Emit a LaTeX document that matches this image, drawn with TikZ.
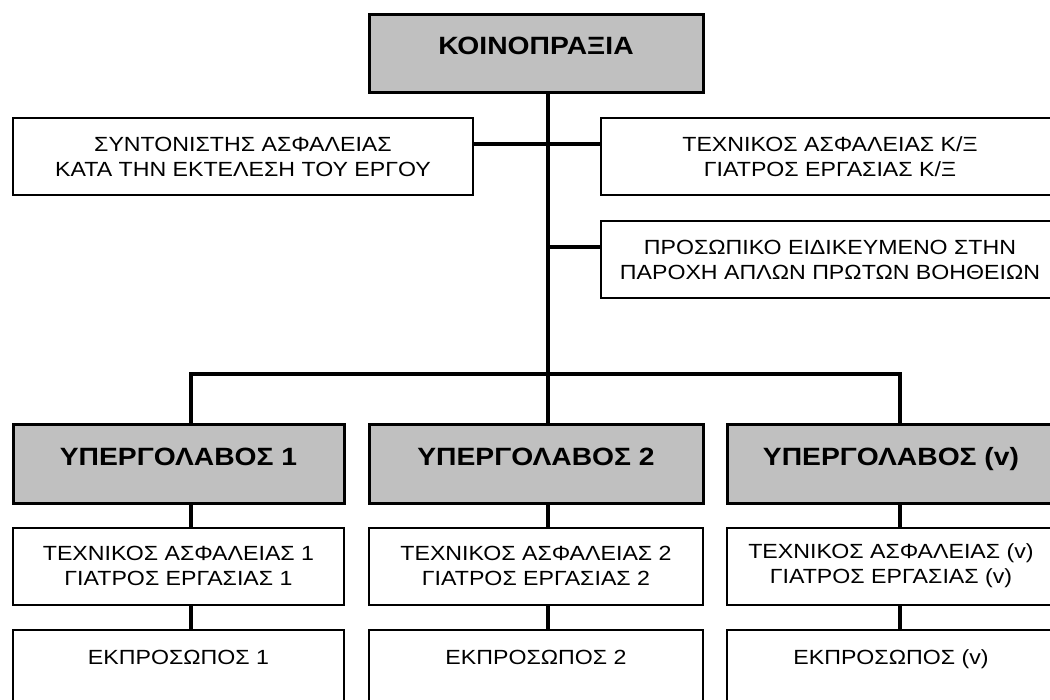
\documentclass[tikz,border=0pt]{standalone}
\usepackage{fontspec}
\setmainfont{Liberation Sans}[FakeStretch=1.13]

\definecolor{boxgray}{RGB}{192,192,192}

\tikzset{
  head/.style={draw, line width=3pt, fill=boxgray, inner sep=0pt,
    font=\bfseries\fontsize{25}{30}\selectfont,
    minimum height=78pt, text height=18pt, text depth=16pt},
  role/.style={draw, line width=2pt, fill=white, align=center, inner sep=0pt,
    font=\fontsize{20.5}{25}\selectfont, minimum height=77pt},
  rep/.style={role, anchor=north, text height=34pt, text depth=70pt},
  link/.style={line width=3.5pt}
}

\begin{document}
\begin{tikzpicture}[x=1pt, y=-1pt]
\useasboundingbox (0,0) rectangle (1050,700);

% consortium and its own safety staff
\node (kp) [head, minimum width=334pt] at (536, 54) {ΚΟΙΝΟΠΡΑΞΙΑ};
\node (syn) [role, minimum width=460pt] at (243, 156.5) {ΣΥΝΤΟΝΙΣΤΗΣ ΑΣΦΑΛΕΙΑΣ\\ΚΑΤΑ ΤΗΝ ΕΚΤΕΛΕΣΗ ΤΟΥ ΕΡΓΟΥ};
\node (tkx) [role, minimum width=458pt] at (830, 156.5) {ΤΕΧΝΙΚΟΣ ΑΣΦΑΛΕΙΑΣ Κ/Ξ\\ΓΙΑΤΡΟΣ ΕΡΓΑΣΙΑΣ Κ/Ξ};
\node (pro) [role, minimum width=458pt] at (830, 259.5) {ΠΡΟΣΩΠΙΚΟ ΕΙΔΙΚΕΥΜΕΝΟ ΣΤΗΝ\\ΠΑΡΟΧΗ ΑΠΛΩΝ ΠΡΩΤΩΝ ΒΟΗΘΕΙΩΝ};

% subcontractors
\node (yp1) [head, minimum width=331pt] at (178.5, 464) {ΥΠΕΡΓΟΛΑΒΟΣ 1};
\node (yp2) [head, minimum width=334pt] at (536, 464) {ΥΠΕΡΓΟΛΑΒΟΣ 2};
\node (ypv) [head, minimum width=328pt] at (891, 464) {ΥΠΕΡΓΟΛΑΒΟΣ (v)};

\node (tech1) [role, minimum width=331pt] at (178.5, 566) {ΤΕΧΝΙΚΟΣ ΑΣΦΑΛΕΙΑΣ 1\\ΓΙΑΤΡΟΣ ΕΡΓΑΣΙΑΣ 1};
\node (tech2) [role, minimum width=334pt] at (536, 566) {ΤΕΧΝΙΚΟΣ ΑΣΦΑΛΕΙΑΣ 2\\ΓΙΑΤΡΟΣ ΕΡΓΑΣΙΑΣ 2};
\node (techv) [role, minimum width=328pt] at (891, 566) {ΤΕΧΝΙΚΟΣ ΑΣΦΑΛΕΙΑΣ (v)\\ΓΙΑΤΡΟΣ ΕΡΓΑΣΙΑΣ (v)};

\node (rep1) [rep, minimum width=331pt] at (178.5, 629) {ΕΚΠΡΟΣΩΠΟΣ 1};
\node (rep2) [rep, minimum width=334pt] at (536, 629) {ΕΚΠΡΟΣΩΠΟΣ 2};
\node (repv) [rep, minimum width=328pt] at (891, 629) {ΕΚΠΡΟΣΩΠΟΣ (v)};

% main trunk and branches
\coordinate (tapA) at (548, 144);
\coordinate (tapB) at (548, 247);
\coordinate (bus) at (548, 374);

\draw[link] ([xshift=12pt]kp.south) -- (bus);
\draw[link] (tapA -| syn.east) -- (tapA -| tkx.west);
\draw[link] (tapB) -- (tapB -| pro.west);
\draw[link] ([xshift=12.5pt]yp1.north) |- (bus) -| ([xshift=9pt]ypv.north);
\draw[link] (bus) -- ([xshift=12pt]yp2.north);

\draw ([xshift=12.5pt]yp1.south) edge[link] ([xshift=12.5pt]tech1.north);
\draw ([xshift=12pt]yp2.south) edge[link] ([xshift=12pt]tech2.north);
\draw ([xshift=9pt]ypv.south) edge[link] ([xshift=9pt]techv.north);
\draw ([xshift=12.5pt]tech1.south) edge[link] ([xshift=12.5pt]rep1.north);
\draw ([xshift=12pt]tech2.south) edge[link] ([xshift=12pt]rep2.north);
\draw ([xshift=9pt]techv.south) edge[link] ([xshift=9pt]repv.north);
\end{tikzpicture}
\end{document}
